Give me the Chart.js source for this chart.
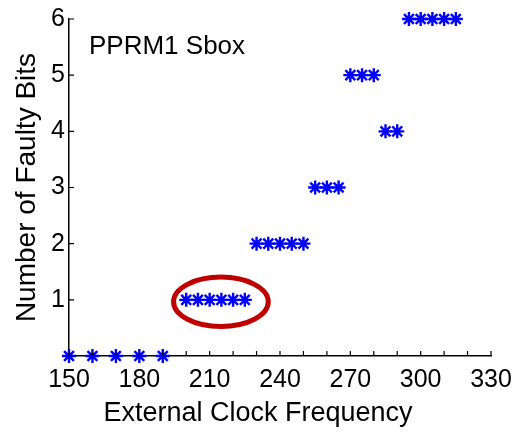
<!DOCTYPE html>
<html>
<head>
<meta charset="utf-8">
<script src="https://cdn.jsdelivr.net/npm/chart.js@4/dist/chart.umd.min.js"></script>
<style>
  html, body { margin: 0; padding: 0; background: #fff; }
  #wrap { width: 529px; height: 432px; }
</style>
</head>
<body>
<div id="wrap"><canvas id="faultChart"></canvas></div>
<script>
// frequency (x) and number of faulty bits (y)
const freqs = [150, 160, 170, 180, 190,
               200, 205, 210, 215, 220, 225,
               230, 235, 240, 245, 250,
               255, 260, 265,
               270, 275, 280,
               285, 290,
               295, 300, 305, 310, 315];
const faultyBits = [0, 0, 0, 0, 0,
                    1, 1, 1, 1, 1, 1,
                    2, 2, 2, 2, 2,
                    3, 3, 3,
                    5, 5, 5,
                    4, 4,
                    6, 6, 6, 6, 6];
const xTickLabels = [150, 180, 210, 240, 270, 300, 330];
const yTickLabels = [1, 2, 3, 4, 5, 6];
const circledGroup = { from: 200, to: 225, bits: 1 };

const FONT = "'Liberation Sans', Arial, sans-serif";

// inward tick marks like matlab
const innerTicks = {
  id: 'innerTicks',
  afterDraw(chart) {
    const ctx = chart.ctx;
    const xs = chart.scales.x, ys = chart.scales.y;
    ctx.save();
    ctx.strokeStyle = '#000';
    ctx.lineWidth = 1.2;
    ctx.beginPath();
    xs.ticks.forEach(t => {
      const px = xs.getPixelForValue(t.value);
      ctx.moveTo(px, ys.bottom);
      ctx.lineTo(px, ys.bottom - 5);
    });
    ys.ticks.forEach(t => {
      if (t.value === 0) return;
      const py = ys.getPixelForValue(t.value);
      ctx.moveTo(xs.left, py);
      ctx.lineTo(xs.left + 5, py);
    });
    ctx.stroke();
    ctx.restore();
  }
};

// label in the upper left, x axis title (sits left of centre in the original) + red ellipse
const notes = {
  id: 'notes',
  afterDatasetsDraw(chart) {
    const ctx = chart.ctx;
    const xs = chart.scales.x, ys = chart.scales.y;
    ctx.save();
    ctx.fillStyle = '#000';
    ctx.font = '26px ' + FONT;
    ctx.textAlign = 'left';
    ctx.textBaseline = 'middle';
    ctx.fillText('PPRM1 Sbox', 89, 47);

    ctx.font = '27px ' + FONT;
    ctx.textAlign = 'center';
    ctx.fillText('External Clock Frequency', 258, 414);

    const cx = xs.getPixelForValue((circledGroup.from + circledGroup.to) / 2 + 2.3);
    const cy = ys.getPixelForValue(circledGroup.bits) + 2;
    const rx = xs.getPixelForValue(circledGroup.to + 10) - cx;
    const ry = (ys.getPixelForValue(0) - ys.getPixelForValue(1)) * 0.44;
    ctx.strokeStyle = '#c00000';
    ctx.lineWidth = 5;
    ctx.beginPath();
    ctx.ellipse(cx, cy, rx, ry, 0, 0, Math.PI * 2);
    ctx.stroke();
    ctx.restore();
  }
};

new Chart(document.getElementById('faultChart'), {
  type: 'scatter',
  data: {
    datasets: [{
      data: freqs.map((f, i) => ({ x: f, y: faultyBits[i] })),
      pointStyle: 'star',
      pointRadius: 7,
      borderColor: '#0000ff',
      backgroundColor: '#0000ff',
      borderWidth: 2.4,
      clip: false
    }]
  },
  options: {
    responsive: true,
    maintainAspectRatio: false,
    animation: false,
    layout: { padding: { top: 18, right: 38, left: 6, bottom: 0 } },
    plugins: { legend: { display: false }, tooltip: { enabled: false } },
    scales: {
      x: {
        type: 'linear',
        min: 150,
        max: 330,
        afterFit: s => { s.height = 76; },
        border: { display: true, color: '#000', width: 1.5 },
        grid: { display: false, drawTicks: false },
        ticks: {
          stepSize: 10,
          autoSkip: false,
          maxRotation: 0,
          padding: 9,
          color: '#000',
          font: { family: FONT, size: 25 },
          callback: v => xTickLabels.includes(v) ? String(v) : ''
        },
        title: { display: false }
      },
      y: {
        min: 0,
        max: 6,
        afterFit: s => { s.width = 63; },
        border: { display: true, color: '#000', width: 1.5 },
        grid: { display: false, drawTicks: false },
        ticks: {
          stepSize: 1,
          padding: 4,
          color: '#000',
          font: { family: FONT, size: 25 },
          callback: v => yTickLabels.includes(v) ? String(v) : ''
        },
        title: {
          display: true,
          text: 'Number of Faulty Bits',
          color: '#000',
          font: { family: FONT, size: 28 },
          padding: { top: 4, bottom: 0 }
        }
      }
    }
  },
  plugins: [innerTicks, notes]
});
</script>
</body>
</html>
